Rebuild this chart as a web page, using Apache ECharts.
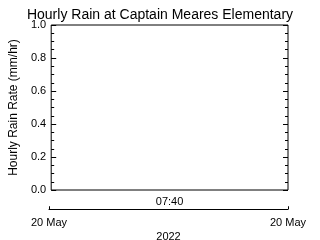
<!DOCTYPE html>
<html><head><meta charset="utf-8">
<script src="https://cdn.jsdelivr.net/npm/echarts@6/dist/echarts.min.js"></script>
<style>html,body{margin:0;padding:0;background:#fff}#c{width:320px;height:240px}</style>
</head><body><div id="c"></div>
<script>
const titleText = 'Hourly Rain at Captain Meares Elementary';
const yAxisName = 'Hourly Rain Rate (mm/hr)';
const yMin = 0, yMax = 1, yStep = 0.2;
const timeLabels = ['', '07:40', ''];
const dateLabels = ['20 May', '20 May'];
const yearLabel = '2022';
const rainTimes = [];
const rainValues = [];

const font = 'Liberation Sans';
const chart = echarts.init(document.getElementById('c'), null, {renderer: 'canvas'});
chart.setOption({
  animation: false,
  backgroundColor: '#fff',
  title: {text: titleText, left: 'center', top: 3,
    textStyle: {fontFamily: font, fontSize: 14, fontWeight: 'normal', color: '#000'}},
  grid: [
    {left: 49, right: 32, top: 25, bottom: 50, show: true, borderColor: '#000', borderWidth: 1, backgroundColor: 'transparent'},
    {left: 49, right: 32, top: 209, height: 1}
  ],
  xAxis: [
    {gridIndex: 0, type: 'category', data: timeLabels, boundaryGap: false,
     axisLine: {show: false}, axisTick: {show: false}, splitLine: {show: false},
     axisLabel: {color: '#000', fontFamily: font, fontSize: 11, margin: 6, interval: 0}},
    {gridIndex: 1, type: 'category', data: dateLabels, boundaryGap: false,
     axisLine: {show: true, lineStyle: {color: '#000', width: 1}},
     axisTick: {show: true, inside: true, length: 3, lineStyle: {color: '#000'}},
     axisLabel: {color: '#000', fontFamily: font, fontSize: 11, margin: 8, interval: 0},
     name: yearLabel, nameLocation: 'middle', nameGap: 22,
     nameTextStyle: {color: '#000', fontFamily: font, fontSize: 11}}
  ],
  yAxis: [
    {gridIndex: 0, type: 'value', min: yMin, max: yMax, interval: yStep, position: 'left',
     axisLine: {show: false}, splitLine: {show: false},
     axisTick: {show: true, inside: true, length: 5, lineStyle: {color: '#000'}},
     minorTick: {show: true, splitNumber: 4, length: 3, lineStyle: {color: '#000'}},
     axisLabel: {color: '#000', fontFamily: font, fontSize: 11, margin: 5, formatter: v => v.toFixed(1)},
     name: yAxisName, nameLocation: 'middle', nameGap: 21, nameRotate: 90,
     nameTextStyle: {color: '#000', fontFamily: font, fontSize: 12}},
    {gridIndex: 0, type: 'value', min: yMin, max: yMax, interval: yStep, position: 'right',
     axisLine: {show: false}, splitLine: {show: false},
     axisTick: {show: true, inside: true, length: 5, lineStyle: {color: '#000'}},
     minorTick: {show: true, splitNumber: 4, length: 3, lineStyle: {color: '#000'}},
     axisLabel: {show: false}},
    {gridIndex: 1, type: 'value', show: false}
  ],
  series: [
    {type: 'line', xAxisIndex: 0, yAxisIndex: 0, data: rainTimes.map((t, i) => [t, rainValues[i]]),
     lineStyle: {color: '#000'}, symbol: 'none'}
  ]
});
</script></body></html>
